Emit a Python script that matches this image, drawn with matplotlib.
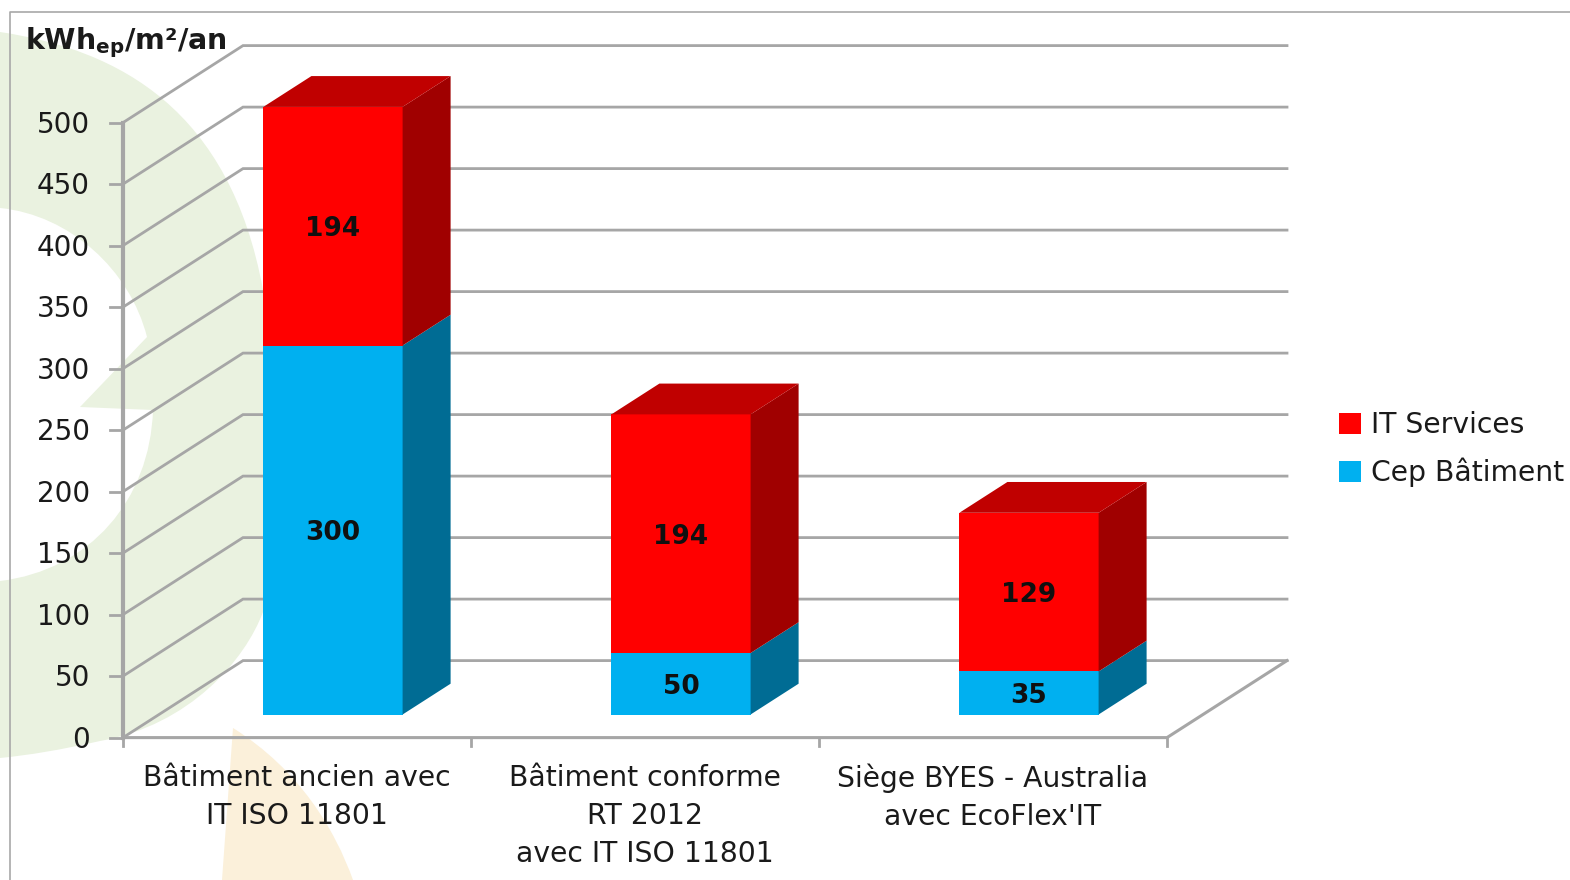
import matplotlib
matplotlib.use("Agg")
import matplotlib.pyplot as plt
from matplotlib.patches import Polygon, PathPatch, Patch
from matplotlib.path import Path

categories = ["Bâtiment ancien avec\nIT ISO 11801",
              "Bâtiment conforme\nRT 2012\navec IT ISO 11801",
              "Siège BYES - Australia\navec EcoFlex'IT"]
cep_batiment = [300, 50, 35]
it_services = [194, 194, 129]
y_ticks = [0, 50, 100, 150, 200, 250, 300, 350, 400, 450, 500]
y_title = r"kWh$_{\mathbf{ep}}$/m²/an"
series_names = ["IT Services", "Cep Bâtiment"]

W, H = 1570, 880
PX_CAT, PX_VAL = 348, 1.23         # pixels per category and per unit value
X0, Y0 = 123, 737.6                # pixel position of the axes origin
DEPTH_X, DEPTH_Y = 120 / PX_CAT, 77 / PX_VAL
GRID = "#A6A6A6"
plt.rcParams["mathtext.fontset"] = "dejavusans"
plt.rcParams["font.family"] = ["DejaVu Sans"]

fig = plt.figure(figsize=(W / 100, H / 100), dpi=100, facecolor="white")

# decorative watermark, in pixel coordinates
bg = fig.add_axes([0, 0, 1, 1], zorder=0)
bg.set_xlim(0, W); bg.set_ylim(H, 0); bg.axis("off")
M, C, Z = Path.MOVETO, Path.CURVE4, Path.CLOSEPOLY
L = Path.LINETO
green_verts = [(0, 32), (120, 50), (230, 110), (263, 290),
               (275, 450), (275, 560), (263, 612),
               (245, 660), (190, 725), (100, 741),
               (60, 750), (30, 755), (0, 758),
               (0, 581),
               (90, 570), (150, 500), (153, 410),
               (80, 407),
               (147, 337),
               (130, 270), (70, 215), (0, 208),
               (0, 32)]
green_codes = [M, C, C, C, C, C, C, C, C, C, C, C, C, L, C, C, C, L, L, C, C, C, Z]
bg.add_patch(PathPatch(Path(green_verts, green_codes), fc="#EAF2E0", ec="none"))
yellow_verts = [(233, 728), (300, 770), (335, 830), (353, 880), (222, 880), (233, 728)]
yellow_codes = [M, C, C, C, L, Z]
bg.add_patch(PathPatch(Path(yellow_verts, yellow_codes), fc="#FBF0DA", ec="none"))
bg.plot([10, 10, W], [H, 12, 12], color="#A8A8A8", lw=1.2)

# chart axes: x in category units, y in value units
ax = fig.add_axes([0, 0, 1, 1], zorder=1)
ax.patch.set_alpha(0)
ax.set_xlim(-X0 / PX_CAT, (W - X0) / PX_CAT)
ax.set_ylim(-(H - Y0) / PX_VAL, Y0 / PX_VAL)
ax.axis("off")
n = len(categories)


def proj(x, v, d=0.0):
    return x + d * DEPTH_X, v + d * DEPTH_Y


for t in y_ticks:
    # side wall, back wall, tick
    ax.plot(*zip(proj(0, t), proj(0, t, 1), proj(n, t, 1)), color=GRID, lw=2, zorder=1,
            solid_joinstyle="miter")
    ax.plot([-13 / PX_CAT, 0], [t, t], color=GRID, lw=2, zorder=1)
    ax.text(-33 / PX_CAT, t + 1 / PX_VAL, str(t), ha="right", va="center_baseline", fontsize=20,
            color="#1a1a1a", zorder=5)
ax.plot([0, 0], [0, y_ticks[-1]], color=GRID, lw=3, zorder=1)
ax.plot(*zip(proj(0, 0), proj(n, 0), proj(n, 0, 1)), color=GRID, lw=2.2, zorder=1)
for i in range(n + 1):
    ax.plot([i, i], [0, -8 / PX_VAL], color=GRID, lw=2, zorder=1)

BAR_W, D_FRONT, D_BAR = 0.4, 0.3, 0.4


def box(i, lo, hi, front, side, top=None):
    x0 = i + 0.5 - BAR_W / 2
    x1 = x0 + BAR_W
    d0, d1 = D_FRONT, D_FRONT + D_BAR
    ax.add_patch(Polygon([proj(x0, lo, d0), proj(x1, lo, d0), proj(x1, hi, d0), proj(x0, hi, d0)],
                         fc=front, ec="none", zorder=3))
    ax.add_patch(Polygon([proj(x1, lo, d0), proj(x1, lo, d1), proj(x1, hi, d1), proj(x1, hi, d0)],
                         fc=side, ec="none", zorder=3))
    if top:
        ax.add_patch(Polygon([proj(x0, hi, d0), proj(x1, hi, d0), proj(x1, hi, d1), proj(x0, hi, d1)],
                             fc=top, ec="none", zorder=3))
    xc, yc = proj(i + 0.5, (lo + hi) / 2, d0)
    ax.text(xc, yc, str(hi - lo), ha="center", va="center_baseline", fontsize=19,
            fontweight="bold", color="#101010", zorder=6)


for i in range(n):
    box(i, 0, cep_batiment[i], "#00B0F0", "#006C94")
    box(i, cep_batiment[i], cep_batiment[i] + it_services[i], "#FF0000", "#A00000", "#C00000")
    ax.text(i + 0.5, -26 / PX_VAL, categories[i], ha="center", va="top", fontsize=20.3,
            color="#1a1a1a", linespacing=1.46, zorder=5)

ax.text(-98 / PX_CAT, (Y0 - 43) / PX_VAL, y_title, ha="left", va="center", fontsize=20.5,
        fontweight="bold", color="#1a1a1a", zorder=5)

handles = [Patch(fc="#FF0000"), Patch(fc="#00B0F0")]
fig.legend(handles, series_names, loc="center left", bbox_to_anchor=(1339 / W, 1 - 449 / H),
           frameon=False, fontsize=20.3, handlelength=0.78, handleheight=0.78, handletextpad=0.35,
           labelspacing=0.65, borderpad=0, borderaxespad=0, labelcolor="#1a1a1a")

fig.savefig("out.png", dpi=100)
